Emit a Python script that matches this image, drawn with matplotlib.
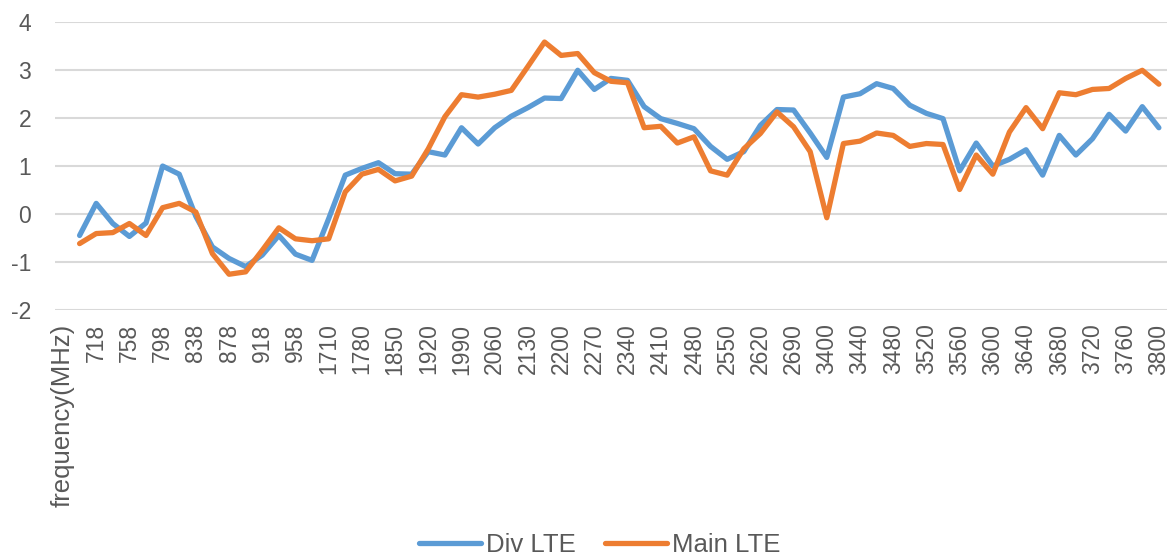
import numpy as np
import matplotlib.pyplot as plt

plt.rcParams['font.family'] = ['Liberation Sans', 'DejaVu Sans']
plt.rcParams['axes.unicode_minus'] = False

# category axis: first cell is the header, then 66 frequencies (only every other one is labelled)
freqs = ['frequency(MHz)',
         '698', '718', '738', '758', '778', '798', '818', '838', '858', '878',
         '898', '918', '938', '958', '980', '1710', '1745', '1780', '1815', '1850',
         '1885', '1920', '1955', '1990', '2025', '2060', '2095', '2130', '2165', '2200',
         '2235', '2270', '2305', '2340', '2375', '2410', '2445', '2480', '2515', '2550',
         '2585', '2620', '2655', '2690', '3380', '3400', '3420', '3440', '3460', '3480',
         '3500', '3520', '3540', '3560', '3580', '3600', '3620', '3640', '3660', '3680',
         '3700', '3720', '3740', '3760', '3780', '3800']

div_lte = [-0.45, 0.22, -0.20, -0.47, -0.19, 1.00, 0.83, -0.05, -0.69, -0.93,
           -1.10, -0.86, -0.45, -0.84, -0.97, -0.10, 0.81, 0.95, 1.07, 0.84,
           0.83, 1.30, 1.23, 1.80, 1.46, 1.80, 2.04, 2.22, 2.42, 2.41,
           3.00, 2.60, 2.83, 2.79, 2.24, 1.99, 1.89, 1.78, 1.41, 1.14,
           1.30, 1.85, 2.18, 2.17, 1.69, 1.18, 2.44, 2.51, 2.72, 2.62,
           2.27, 2.10, 1.99, 0.90, 1.48, 1.00, 1.14, 1.34, 0.81, 1.64,
           1.23, 1.57, 2.08, 1.73, 2.24, 1.80]

main_lte = [-0.62, -0.41, -0.39, -0.20, -0.45, 0.13, 0.22, 0.04, -0.83, -1.26,
            -1.21, -0.76, -0.29, -0.52, -0.56, -0.52, 0.46, 0.83, 0.93, 0.69,
            0.79, 1.36, 2.03, 2.49, 2.44, 2.50, 2.58, 3.08, 3.59, 3.31,
            3.35, 2.95, 2.77, 2.74, 1.80, 1.83, 1.48, 1.61, 0.90, 0.81,
            1.36, 1.68, 2.13, 1.82, 1.30, -0.08, 1.47, 1.52, 1.69, 1.64,
            1.41, 1.47, 1.45, 0.51, 1.23, 0.83, 1.71, 2.22, 1.78, 2.53,
            2.49, 2.60, 2.62, 2.83, 3.00, 2.71]

grey = '#595959'

fig = plt.figure(figsize=(11.76, 5.6), dpi=100)
ax = fig.add_axes([0.0465, 0.447, 0.946, 0.513])

x = np.arange(1, len(freqs))
ax.plot(x, div_lte, color='#5B9BD5', lw=3.8, solid_joinstyle='round',
        solid_capstyle='round', label='Div LTE')
ax.plot(x, main_lte, color='#ED7D31', lw=3.8, solid_joinstyle='round',
        solid_capstyle='round', label='Main LTE')

ax.set_xlim(-0.5, len(freqs) - 0.5)
ax.set_ylim(-2, 4)
ax.set_yticks(range(-2, 5))
ax.set_xticks(range(0, len(freqs), 2))
ax.set_xticklabels(freqs[::2], rotation=90, va='top', ha='center')

ax.grid(axis='y', color='#D9D9D9', lw=1.5)
ax.set_axisbelow(True)
for s in ax.spines.values():
    s.set_visible(False)
ax.tick_params(axis='both', length=0, labelsize=16.5, colors=grey)
# the header label renders wider in the original
ax.get_xticklabels()[0].set_fontsize(18.5)
ax.tick_params(axis='y', pad=17)
ax.tick_params(axis='x', pad=10)

fig.legend(loc='center', bbox_to_anchor=(0.51, 0.026), ncol=2, frameon=False,
           fontsize=18.5, handlelength=2.4, handletextpad=0.2, columnspacing=1.15,
           labelcolor=grey)

fig.savefig('out.png', dpi=100)
